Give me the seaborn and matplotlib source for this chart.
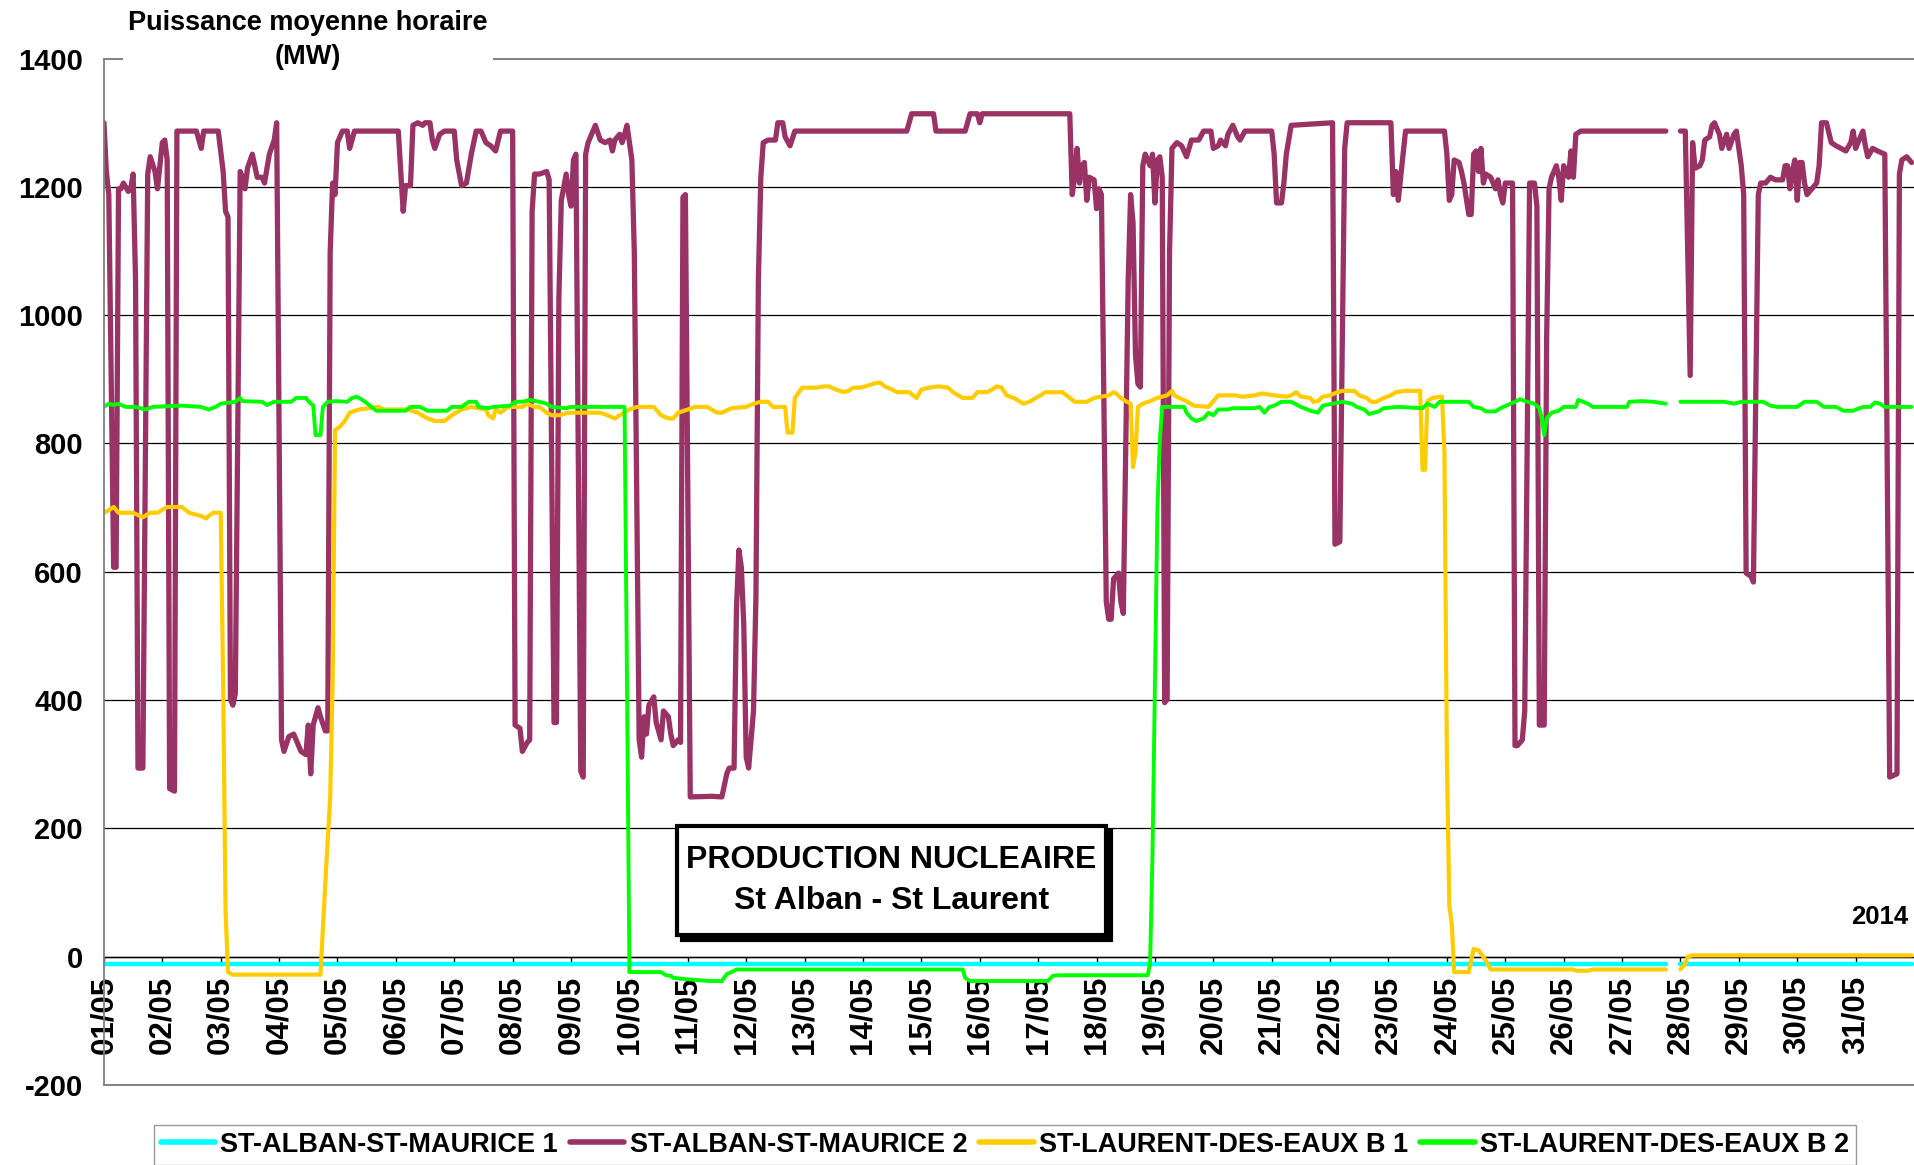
import numpy as np
import pandas as pd
import matplotlib
matplotlib.use("Agg")
import matplotlib.pyplot as plt
import seaborn as sns
from matplotlib.lines import Line2D
from matplotlib.patches import Rectangle

# --- Series : (heure depuis le 01/05 00h, MW) ; None = trou dans les donnees
alban1 = [(0, -12), (642, -12), (645, None), (648, -12), (743, -12)]

alban2 = [
    (0, 1300), (1, 1224), (2, 1188), (4, 607), (5, 607), (6, 1197), (7, 1197), (8, 1206),
    (10, 1193), (11, 1197), (12, 1220), (13, 1054), (14, 294), (16, 294), (18, 1220),
    (19, 1247), (21, 1224), (22, 1197), (24, 1269), (25, 1273), (26, 1242), (27, 262),
    (29, 258), (30, 1287), (38, 1287), (40, 1260), (41, 1287), (47, 1287), (49, 1224),
    (50, 1162), (51, 1153), (52, 401), (53, 392), (54, 410), (56, 1224), (57, 1215),
    (58, 1197), (59, 1229), (61, 1251), (63, 1215), (65, 1215), (66, 1206), (68, 1251),
    (70, 1273), (71, 1300), (73, 338), (74, 320), (76, 343), (78, 347), (80, 329),
    (81, 320), (83, 315), (84, 361), (85, 285), (86, 361), (88, 388), (89, 374),
    (91, 352), (92, 352), (93, 1099), (94, 1206), (95, 1188), (96, 1269), (98, 1287),
    (100, 1287), (101, 1260), (103, 1287), (121, 1287), (122, 1224), (123, 1162),
    (124, 1202), (126, 1202), (127, 1296), (129, 1300), (131, 1296), (132, 1300),
    (134, 1300), (135, 1273), (136, 1260), (138, 1282), (140, 1287), (144, 1287),
    (145, 1242), (147, 1202), (149, 1206), (151, 1251), (153, 1287), (155, 1287),
    (157, 1269), (159, 1264), (161, 1256), (163, 1287), (168, 1287), (169, 361),
    (171, 356), (172, 320), (174, 334), (175, 338), (176, 1162), (177, 1220), (179, 1220),
    (182, 1224), (183, 1211), (185, 365), (186, 365), (187, 1027), (188, 1179),
    (190, 1220), (191, 1188), (192, 1170), (193, 1242), (194, 1251), (196, 289),
    (197, 280), (198, 1251), (199, 1269), (201, 1287), (202, 1296), (204, 1273),
    (206, 1269), (208, 1273), (209, 1256), (210, 1273), (212, 1282), (213, 1269),
    (214, 1282), (215, 1296), (217, 1242), (218, 1099), (220, 338), (221, 311),
    (222, 374), (223, 347), (224, 392), (226, 405), (227, 365), (229, 338), (230, 383),
    (232, 374), (233, 347), (234, 329), (236, 338), (237, 334), (238, 1184), (239, 1188),
    (241, 249), (250, 250), (254, 249), (256, 285), (257, 294), (259, 294), (260, 544),
    (261, 634), (262, 607), (263, 517), (264, 311), (265, 294), (267, 383), (268, 562),
    (269, 1054), (270, 1215), (271, 1269), (273, 1273), (276, 1273), (277, 1300),
    (279, 1300), (280, 1278), (282, 1264), (284, 1287), (330, 1287), (332, 1314),
    (341, 1314), (342, 1287), (354, 1287), (356, 1314), (359, 1314), (360, 1300),
    (361, 1314), (397, 1314), (398, 1188), (399, 1215), (400, 1260), (401, 1206),
    (402, 1233), (403, 1238), (404, 1179), (405, 1215), (407, 1211), (408, 1166),
    (409, 1197), (410, 1188), (412, 553), (413, 526), (414, 526), (415, 589), (417, 598),
    (418, 553), (419, 535), (421, 1054), (422, 1188), (423, 1144), (424, 938), (425, 893),
    (426, 888), (427, 1233), (428, 1251), (430, 1233), (431, 1251), (432, 1175),
    (433, 1242), (434, 1247), (435, 1215), (436, 396), (437, 401), (438, 1099),
    (439, 1260), (441, 1269), (443, 1264), (445, 1247), (446, 1260), (447, 1273),
    (450, 1273), (452, 1287), (455, 1287), (456, 1260), (458, 1264), (459, 1273),
    (461, 1264), (462, 1282), (464, 1296), (466, 1278), (467, 1273), (469, 1287),
    (480, 1287), (481, 1251), (482, 1175), (484, 1175), (485, 1206), (486, 1251),
    (488, 1296), (505, 1300), (506, 643), (508, 647), (510, 1260), (511, 1300),
    (529, 1300), (530, 1188), (531, 1224), (532, 1179), (533, 1215), (535, 1287),
    (551, 1287), (552, 1251), (553, 1179), (554, 1188), (555, 1242), (557, 1238),
    (558, 1224), (559, 1206), (561, 1157), (562, 1157), (563, 1251), (564, 1256),
    (565, 1224), (566, 1260), (567, 1206), (568, 1220), (570, 1215), (572, 1197),
    (573, 1211), (574, 1188), (575, 1175), (576, 1206), (579, 1206), (580, 329),
    (581, 329), (583, 338), (584, 383), (586, 1206), (588, 1206), (589, 1170),
    (590, 361), (592, 361), (593, 965), (594, 1197), (595, 1215), (597, 1233),
    (598, 1215), (599, 1179), (600, 1233), (601, 1220), (602, 1215), (603, 1256),
    (604, 1215), (605, 1282), (607, 1287), (642, 1287), (645, None), (648, 1287),
    (650, 1287), (652, 906), (653, 1269), (654, 1229), (656, 1233), (657, 1242),
    (658, 1273), (660, 1278), (661, 1296), (662, 1300), (664, 1282), (665, 1260),
    (667, 1282), (668, 1260), (670, 1282), (671, 1287), (673, 1233), (674, 1188),
    (675, 598), (677, 593), (678, 584), (680, 1188), (681, 1206), (683, 1206),
    (685, 1215), (687, 1211), (690, 1211), (691, 1233), (692, 1233), (693, 1197),
    (694, 1224), (695, 1242), (696, 1179), (697, 1238), (698, 1238), (699, 1206),
    (700, 1188), (702, 1197), (704, 1206), (705, 1233), (706, 1300), (708, 1300),
    (710, 1269), (712, 1264), (714, 1260), (716, 1256), (718, 1269), (719, 1287),
    (720, 1260), (721, 1269), (723, 1287), (724, 1264), (725, 1247), (727, 1260),
    (729, 1256), (732, 1251), (734, 280), (737, 285), (738, 1220), (739, 1242),
    (741, 1247), (743, 1238),
]

laurent1 = [
    (0, 692), (2, 696), (4, 701), (6, 692), (12, 692), (16, 685), (19, 692), (22, 692),
    (26, 701), (32, 701), (35, 692), (40, 687), (42, 683), (43, 687), (45, 692), (48, 692),
    (49, 428), (50, 70), (51, -24), (53, -28), (89, -28), (91, 115), (93, 249), (94, 428),
    (95, 821), (97, 826), (99, 835), (101, 848), (105, 853), (113, 857), (115, 853),
    (124, 853), (125, 853), (129, 848), (133, 839), (136, 835), (140, 835), (143, 844),
    (147, 853), (151, 857), (157, 853), (158, 844), (160, 839), (161, 853), (163, 848),
    (166, 857), (172, 857), (174, 862), (177, 857), (179, 857), (182, 848), (184, 844),
    (187, 844), (191, 848), (204, 848), (207, 844), (210, 839), (212, 844), (216, 853),
    (219, 857), (226, 857), (229, 844), (232, 839), (234, 839), (236, 848), (240, 853),
    (243, 857), (248, 857), (252, 848), (254, 848), (258, 855), (264, 857), (267, 862),
    (270, 865), (273, 865), (275, 857), (280, 857), (281, 817), (283, 817), (284, 871),
    (287, 887), (293, 887), (296, 889), (298, 889), (301, 884), (304, 880), (306, 882),
    (308, 887), (311, 887), (313, 889), (317, 894), (319, 895), (321, 889), (324, 884),
    (326, 880), (331, 880), (334, 871), (336, 884), (339, 887), (343, 889), (347, 887),
    (349, 880), (353, 871), (357, 871), (359, 880), (363, 880), (365, 884), (367, 889),
    (369, 887), (371, 875), (374, 871), (378, 862), (381, 866), (383, 871), (385, 875),
    (387, 880), (394, 880), (397, 871), (399, 865), (404, 865), (407, 871), (410, 873),
    (413, 875), (415, 880), (416, 878), (418, 871), (420, 866), (422, 862), (423, 763),
    (424, 786), (425, 857), (427, 862), (430, 866), (433, 871), (437, 875), (439, 882),
    (440, 875), (442, 871), (445, 866), (448, 859), (454, 857), (456, 866), (458, 875),
    (465, 875), (468, 873), (473, 875), (476, 878), (481, 875), (486, 873), (488, 875),
    (490, 880), (492, 873), (496, 871), (497, 865), (499, 866), (501, 873), (504, 875),
    (507, 880), (509, 882), (514, 882), (516, 875), (519, 871), (521, 865), (523, 865),
    (526, 871), (529, 875), (531, 880), (535, 882), (541, 882), (542, 759), (543, 759),
    (544, 866), (546, 871), (550, 873), (551, 786), (552, 311), (553, 79), (554, 52),
    (555, -24), (561, -24), (563, 12), (565, 10), (568, -6), (570, -20), (604, -20),
    (605, -22), (610, -22), (612, -20), (642, -20), (645, None), (648, -20), (650, -11),
    (651, 0), (653, 2), (743, 2),
]

laurent2 = [
    (0, 857), (2, 862), (4, 860), (6, 862), (9, 857), (13, 857), (17, 853), (20, 857),
    (32, 859), (40, 857), (43, 853), (46, 857), (48, 862), (54, 865), (56, 871), (57, 866),
    (65, 865), (67, 860), (70, 865), (77, 865), (79, 871), (83, 871), (85, 862), (86, 860),
    (87, 813), (89, 813), (90, 857), (92, 865), (95, 866), (100, 865), (102, 871),
    (104, 873), (107, 866), (110, 857), (112, 851), (124, 851), (126, 857), (130, 857),
    (133, 851), (141, 851), (143, 857), (147, 857), (150, 865), (153, 865), (154, 857),
    (158, 855), (160, 857), (167, 859), (169, 865), (172, 865), (175, 868), (179, 865),
    (182, 862), (184, 857), (190, 855), (192, 857), (214, 857), (215, 428), (216, -24),
    (229, -24), (231, -29), (233, -30), (234, -33), (239, -35), (249, -38), (254, -38),
    (256, -27), (258, -24), (260, -20), (353, -20), (354, -33), (356, -38), (388, -38),
    (390, -30), (392, -29), (429, -29), (430, -11), (431, 159), (432, 428), (433, 696),
    (434, 804), (435, 857), (444, 857), (445, 848), (447, 839), (449, 835), (452, 839),
    (454, 848), (456, 844), (458, 853), (462, 853), (464, 855), (473, 855), (475, 857),
    (477, 848), (479, 857), (481, 859), (484, 865), (488, 865), (492, 857), (496, 851),
    (499, 848), (501, 859), (505, 862), (509, 865), (513, 862), (515, 857), (518, 853),
    (520, 846), (524, 850), (526, 855), (532, 857), (542, 855), (544, 862), (547, 857),
    (549, 865), (561, 865), (563, 857), (566, 855), (568, 850), (572, 850), (574, 855),
    (577, 860), (580, 865), (582, 869), (585, 865), (588, 862), (590, 855), (591, 839),
    (592, 813), (593, 839), (595, 848), (598, 851), (600, 857), (605, 857), (606, 868),
    (608, 865), (610, 862), (612, 857), (626, 857), (627, 865), (632, 866), (637, 865),
    (642, 862), (645, None), (648, 865), (666, 865), (670, 862), (673, 865), (682, 865),
    (685, 859), (688, 857), (696, 857), (699, 865), (704, 865), (707, 857), (712, 857),
    (715, 851), (719, 851), (723, 857), (726, 857), (728, 864), (730, 862), (732, 857),
    (743, 857),
]

noms = ["ST-ALBAN-ST-MAURICE 1", "ST-ALBAN-ST-MAURICE 2",
        "ST-LAURENT-DES-EAUX B 1", "ST-LAURENT-DES-EAUX B 2"]
series = [alban1, alban2, laurent1, laurent2]
couleurs = ["#00FFFF", "#993366", "#FFCC00", "#00FF00"]
epaisseurs = [3.2, 3.8, 3.0, 2.8]

jours = [f"{d:02d}/05" for d in range(1, 32)]
graduations_mw = list(range(-200, 1401, 200))

# --- Mise en forme des donnees (format long pour seaborn)
frames = []
for nom, serie in zip(noms, series):
    h = np.array([p[0] for p in serie], dtype=float)
    v = np.array([np.nan if p[1] is None else p[1] for p in serie], dtype=float)
    df = pd.DataFrame({"jour": h / 24.0, "mw": v, "centrale": nom,
                       "segment": np.cumsum(np.isnan(v))})
    frames.append(df.dropna())
data = pd.concat(frames, ignore_index=True)

sns.set_theme(style="white")
plt.rcParams["font.family"] = ["Liberation Sans", "DejaVu Sans"]
plt.rcParams["font.weight"] = "bold"
plt.rcParams["text.color"] = "black"

fig = plt.figure(figsize=(19.14, 11.65), dpi=100)
ax = fig.add_axes([0.0543, 0.0687, 0.9457, 0.881])

# axe des categories sur la ligne 0 (avant les etiquettes : set_position remet les ticks a zero)
ax.spines["top"].set_visible(False)
ax.spines["right"].set_visible(False)
ax.spines["bottom"].set_position(("data", 0))
ax.spines["bottom"].set_color("black")
ax.spines["bottom"].set_linewidth(1.0)
ax.spines["bottom"].set_zorder(1.5)
ax.spines["left"].set_color("#808080")
ax.spines["left"].set_linewidth(1.3)

# quadrillage horizontal
for v in graduations_mw:
    gris = v in (-200, 1400)
    ax.axhline(v, color="#808080" if gris else "black", lw=1.4 if gris else 0.9,
               zorder=0.5, clip_on=False)

sns.lineplot(data=data, x="jour", y="mw", hue="centrale", hue_order=noms,
             palette=dict(zip(noms, couleurs)), size="centrale",
             sizes=dict(zip(noms, epaisseurs)), units="segment", estimator=None,
             legend=False, ax=ax)

ax.set_xlim(0, 31)
ax.set_ylim(-200, 1400)
ax.set_xticks(range(31))
ax.set_xticklabels(jours, fontweight="bold")
ax.set_yticks(graduations_mw)
ax.set_yticklabels([str(v) for v in graduations_mw], fontweight="bold")
ax.set_xlabel("")
ax.set_ylabel("")

ax.tick_params(axis="y", direction="out", length=6, width=1, color="#404040",
               pad=9, labelsize=21, labelcolor="black")
ax.tick_params(axis="x", direction="out", length=4, width=1, color="black",
               pad=10, labelsize=22.5, labelcolor="black", bottom=True,
               labelrotation=90)

# titre de l'axe
fig.text(308 / 1914, 1 - 40 / 1165, "Puissance moyenne horaire\n(MW)",
         ha="center", va="center", fontsize=19.5, fontweight="bold", linespacing=1.35,
         bbox=dict(boxstyle="square,pad=0.2", fc="white", ec="none"))

# cartouche avec ombre
x0, y0 = 677 / 1914, 1 - 935 / 1165
w, h = (1106 - 677) / 1914, (935 - 826) / 1165
dx, dy = 5 / 1914, 5 / 1165
fig.add_artist(Rectangle((x0 + dx, y0 - dy), w, h, transform=fig.transFigure,
                         fc="black", ec="black", lw=3, zorder=5))
fig.add_artist(Rectangle((x0, y0), w, h, transform=fig.transFigure,
                         fc="white", ec="black", lw=3, zorder=6))
fig.text(x0 + w / 2, y0 + h / 2, "PRODUCTION NUCLEAIRE\nSt Alban - St Laurent",
         ha="center", va="center", fontsize=23, fontweight="bold", linespacing=1.45,
         color="black", zorder=7)

fig.text(1880 / 1914, 1 - 917 / 1165, "2014", ha="center", va="center",
         fontsize=18.5, fontweight="bold")

# legende
poignees = [Line2D([0], [0], color=c, lw=4) for c in couleurs]
fig.legend(poignees, noms, loc="upper center", bbox_to_anchor=(0.525, 0.0343),
           ncol=4, frameon=True, fancybox=False, edgecolor="#808080",
           prop={"size": 19.5, "weight": "bold"}, handlelength=2.0,
           handletextpad=0.2, columnspacing=0.45, borderpad=0.25, borderaxespad=0)

plt.savefig("out.png", dpi=100)
plt.close(fig)
